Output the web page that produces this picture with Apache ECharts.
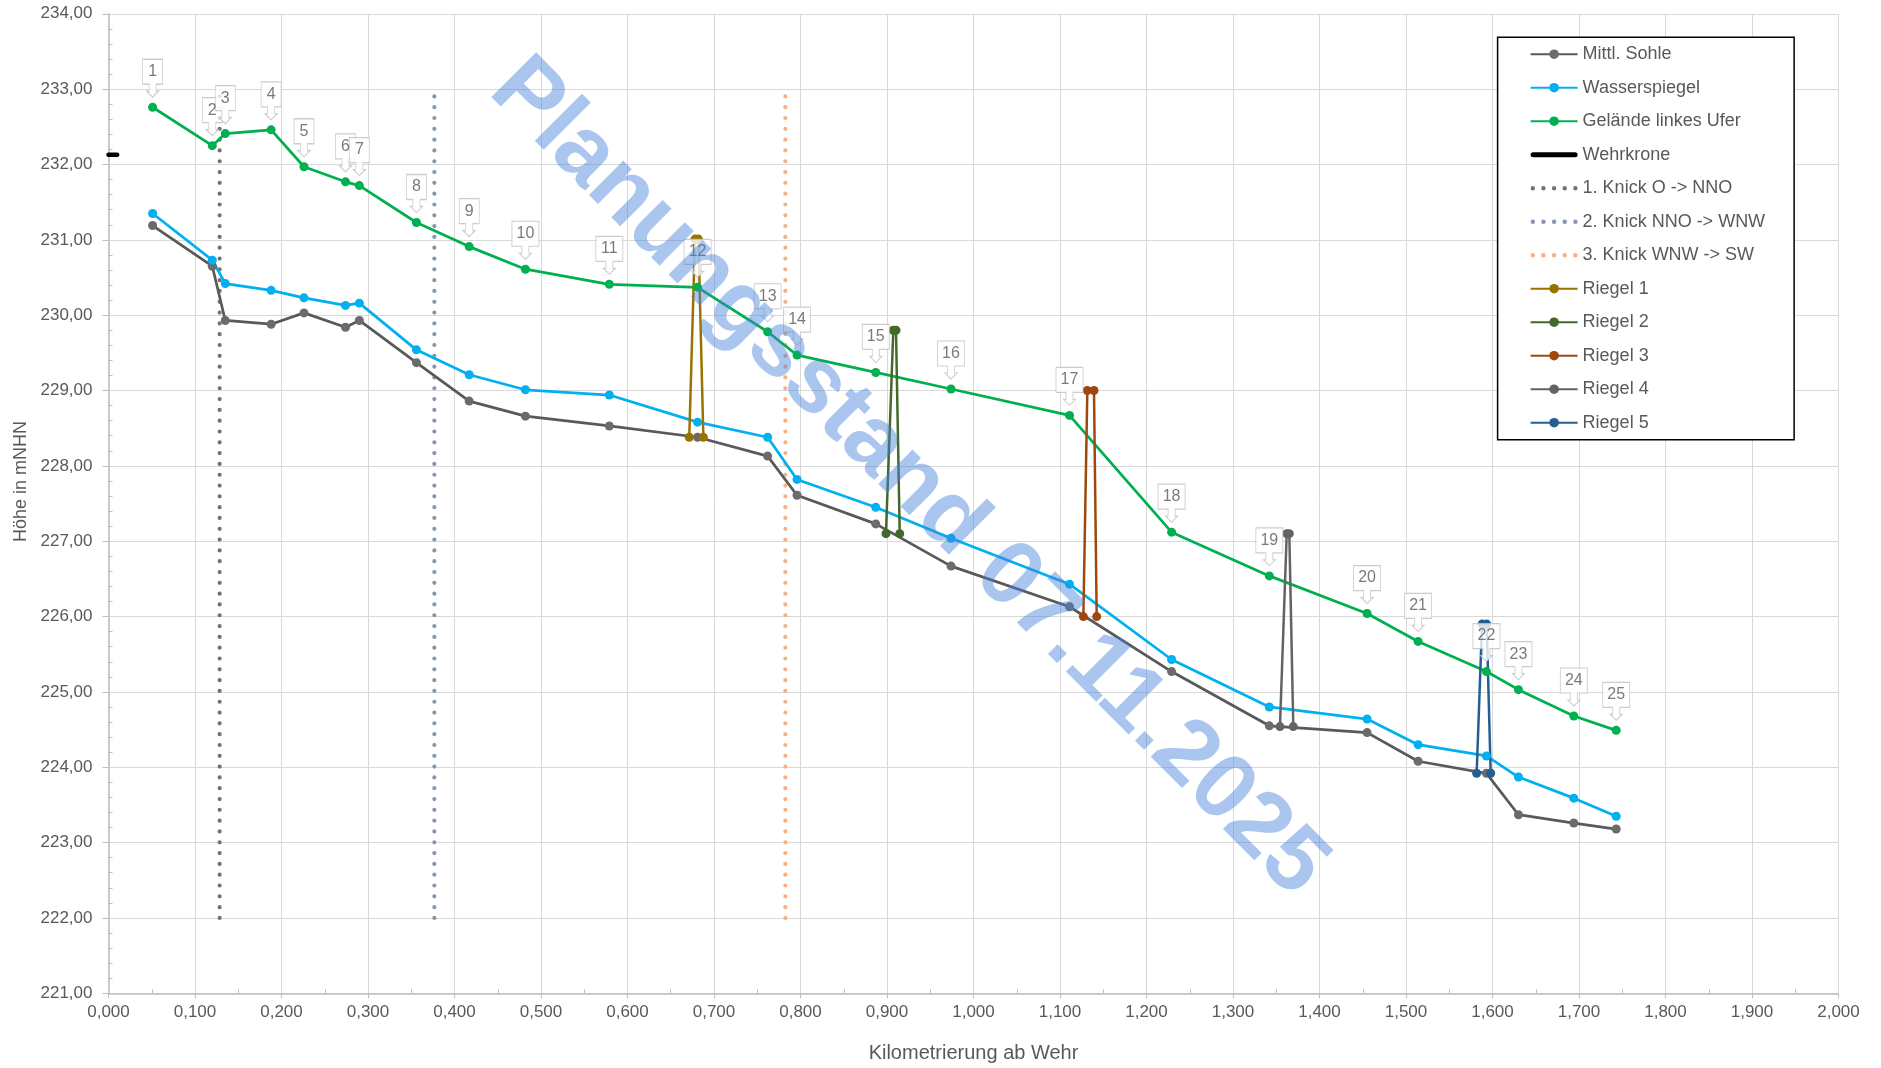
<!DOCTYPE html>
<html><head><meta charset="utf-8">
<script src="https://cdn.jsdelivr.net/npm/echarts@6/dist/echarts.min.js"></script>
<style>html,body{margin:0;padding:0;background:#fff}#c{width:1881px;height:1068px}</style>
</head><body><div id="c"></div>
<script>
// ---- data ----
const stationLabels = ['1','2','3','4','5','6','7','8','9','10','11','12','13','14','15','16','17','18','19','20','21','22','23','24','25'];
const km = [0.051, 0.120, 0.135, 0.188, 0.226, 0.274, 0.290, 0.356, 0.417, 0.482, 0.579, 0.681, 0.762, 0.796, 0.887, 0.974, 1.111, 1.229, 1.342, 1.455, 1.514, 1.593, 1.630, 1.694, 1.743];
const sohle = [231.19, 230.65, 229.93, 229.88, 230.03, 229.84, 229.93, 229.37, 228.86, 228.66, 228.53, 228.38, 228.13, 227.61, 227.23, 226.67, 226.13, 225.27, 224.55, 224.46, 224.08, 223.92, 223.37, 223.26, 223.18];
const wasser = [231.35, 230.73, 230.42, 230.33, 230.23, 230.13, 230.16, 229.54, 229.21, 229.01, 228.94, 228.58, 228.38, 227.82, 227.45, 227.04, 226.43, 225.43, 224.80, 224.64, 224.30, 224.15, 223.87, 223.59, 223.35];
const gelaende = [232.76, 232.25, 232.41, 232.46, 231.97, 231.77, 231.72, 231.23, 230.91, 230.61, 230.41, 230.37, 229.78, 229.47, 229.24, 229.02, 228.67, 227.12, 226.54, 226.04, 225.67, 225.27, 225.03, 224.68, 224.49];

const wehrkroneX = [0.000, 0.010];
const wehrkroneY = [232.13, 232.13];

const knickY = [222.0, 233.0];
const knick1X = [0.1285, 0.1285];
const knick2X = [0.3767, 0.3767];
const knick3X = [0.7825, 0.7825];

const riegel1X = [0.6714, 0.6780, 0.6820, 0.6877];
const riegel1Y = [228.38, 231.01, 231.01, 228.38];
const riegel2X = [0.8988, 0.9073, 0.9104, 0.9147];
const riegel2Y = [227.10, 229.80, 229.80, 227.10];
const riegel3X = [1.1270, 1.1316, 1.1393, 1.1424];
const riegel3Y = [226.00, 229.00, 229.00, 226.00];
const riegel4X = [1.3543, 1.3621, 1.3651, 1.3697];
const riegel4Y = [224.54, 227.10, 227.10, 224.54];
const riegel5X = [1.5817, 1.5879, 1.5933, 1.5979];
const riegel5Y = [223.92, 225.90, 225.90, 223.92];

const seriesNames = ['Mittl. Sohle','Wasserspiegel','Gelände linkes Ufer','Wehrkrone','1. Knick O -> NNO','2. Knick NNO -> WNW','3. Knick WNW -> SW','Riegel 1','Riegel 2','Riegel 3','Riegel 4','Riegel 5'];
const watermarkText = 'Planungsstand 07.11.2025';

// ---- helpers ----
const pairs = (xs, ys) => xs.map((x, i) => [x, ys[i]]);
const FONT = '"Liberation Sans", Arial, sans-serif';
const TXT = '#595959';

function markerLine(name, xs, ys, lineColor, markColor, width) {
  return {
    name, type: 'line', data: pairs(xs, ys),
    symbol: 'circle', symbolSize: 9, showSymbol: true,
    lineStyle: { color: lineColor, width: width },
    itemStyle: { color: markColor, borderWidth: 0 },
    emphasis: { disabled: true }, silent: true, z: 3
  };
}
function dotLine(name, xs, ys, color) {
  return {
    name, type: 'line', data: pairs(xs, ys), symbol: 'none',
    lineStyle: { color, width: 4.2, type: [0.01, 10.8], cap: 'round' },
    itemStyle: { color },
    emphasis: { disabled: true }, silent: true, z: 2
  };
}
function callout(w) {
  const c = w / 2;
  return 'path://M0,0H' + w + 'V25H' + (c + 3.5) + 'V32H' + (c + 6) + 'L' + c + ',38L' + (c - 6) + ',32H' + (c - 3.5) + 'V25H0Z';
}
const calloutData = km.map((x, i) => {
  const w = stationLabels[i].length > 1 ? 27 : 20;
  return { value: [x, gelaende[i]], name: stationLabels[i], symbol: callout(w), symbolSize: [w, 38] };
});

const dotsIcon = 'path://M0,6A2.2,2.2 0 1 0 4.4,6A2.2,2.2 0 1 0 0,6Z M10.6,6A2.2,2.2 0 1 0 15,6A2.2,2.2 0 1 0 10.6,6Z M21.2,6A2.2,2.2 0 1 0 25.6,6A2.2,2.2 0 1 0 21.2,6Z M31.8,6A2.2,2.2 0 1 0 36.2,6A2.2,2.2 0 1 0 31.8,6Z M42.4,6A2.2,2.2 0 1 0 46.8,6A2.2,2.2 0 1 0 42.4,6Z';
const barIcon = 'path://M2.5,0H44.5A2.5,2.5 0 0 1 44.5,5H2.5A2.5,2.5 0 0 1 2.5,0Z';

const legendData = seriesNames.map(n => {
  if (n.indexOf('Knick') >= 0) return { name: n, icon: dotsIcon };
  if (n === 'Wehrkrone') return { name: n, icon: barIcon };
  return { name: n };
});

const chart = echarts.init(document.getElementById('c'), null, { renderer: 'canvas' });
chart.setOption({
  animation: false,
  backgroundColor: '#fff',
  textStyle: { fontFamily: FONT },
  grid: { left: 108.5, top: 13.8, width: 1730, height: 979.5, containLabel: false, outerBoundsMode: 'none' },
  legend: {
    orient: 'vertical', left: 1497.6, top: 37.2,
    data: legendData,
    itemWidth: 47, itemHeight: 12, itemGap: 15.5,
    padding: [8, 29, 8, 32],
    borderColor: '#000', borderWidth: 1.5, backgroundColor: '#fff',
    textStyle: { color: TXT, fontSize: 18, fontFamily: FONT, lineHeight: 18 },
    selectedMode: false
  },
  xAxis: {
    type: 'value', min: 0, max: 2, interval: 0.1,
    name: 'Kilometrierung ab Wehr', nameLocation: 'middle', nameGap: 50,
    nameTextStyle: { color: TXT, fontSize: 20, fontFamily: FONT },
    axisLine: { show: true, lineStyle: { color: '#bfbfbf', width: 1.5 } },
    axisTick: { show: true, length: 5, lineStyle: { color: '#bfbfbf' } },
    minorTick: { show: true, splitNumber: 2, length: -4, lineStyle: { color: '#bfbfbf' } },
    axisLabel: { color: TXT, fontSize: 17, margin: 11, showMinLabel: true, showMaxLabel: true,
      formatter: v => v.toFixed(3).replace('.', ',') },
    splitLine: { show: true, lineStyle: { color: '#d9d9d9', width: 1 } }
  },
  yAxis: {
    type: 'value', min: 221, max: 234, interval: 1,
    name: 'Höhe in mNHN', nameLocation: 'middle', nameGap: 78, nameRotate: 90,
    nameTextStyle: { color: TXT, fontSize: 18, fontFamily: FONT, padding: [0, 0, 0, 44] },
    axisLine: { show: true, lineStyle: { color: '#bfbfbf', width: 1.5 } },
    axisTick: { show: true, length: 6, lineStyle: { color: '#bfbfbf' } },
    minorTick: { show: true, splitNumber: 5, length: -4, lineStyle: { color: '#bfbfbf' } },
    axisLabel: { color: TXT, fontSize: 17, margin: 16, showMinLabel: true, showMaxLabel: true,
      formatter: v => v.toFixed(2).replace('.', ',') },
    splitLine: { show: true, lineStyle: { color: '#d9d9d9', width: 1 } }
  },
  series: [
    dotLine(seriesNames[4], knick1X, knickY, '#767171'),
    dotLine(seriesNames[5], knick2X, knickY, '#8497B0'),
    dotLine(seriesNames[6], knick3X, knickY, '#F4B183'),
    markerLine(seriesNames[0], km, sohle, '#595959', '#6b6b6b', 2.75),
    markerLine(seriesNames[1], km, wasser, '#00B0F0', '#00B0F0', 2.75),
    markerLine(seriesNames[2], km, gelaende, '#00B050', '#00B050', 2.75),
    {
      name: seriesNames[3], type: 'line', data: pairs(wehrkroneX, wehrkroneY), symbol: 'none',
      lineStyle: { color: '#000', width: 4.5, cap: 'round' }, itemStyle: { color: '#000' },
      emphasis: { disabled: true }, silent: true, z: 3
    },
    markerLine(seriesNames[7], riegel1X, riegel1Y, '#997300', '#997300', 2.5),
    markerLine(seriesNames[8], riegel2X, riegel2Y, '#43682B', '#43682B', 2.5),
    markerLine(seriesNames[9], riegel3X, riegel3Y, '#9E480E', '#9E480E', 2.5),
    markerLine(seriesNames[10], riegel4X, riegel4Y, '#636363', '#636363', 2.5),
    markerLine(seriesNames[11], riegel5X, riegel5Y, '#255E91', '#255E91', 2.5),
    {
      name: 'Beschriftung', type: 'scatter', data: calloutData,
      symbolOffset: [0, -29],
      itemStyle: { color: '#ffffff', borderColor: '#bfbfbf', borderWidth: 1 },
      label: { show: true, position: 'inside', offset: [0, -6.5], formatter: p => p.name,
        color: TXT, fontSize: 16, fontFamily: FONT },
      emphasis: { disabled: true }, silent: true, z: 10
    }
  ],
  graphic: [{
    type: 'text', x: 908, y: 478, rotation: -Math.PI / 4, z: 100, silent: true,
    style: { text: watermarkText, fill: 'rgba(66,128,217,0.45)',
      font: 'bold 92px "Liberation Sans", Arial, sans-serif',
      textAlign: 'center', textVerticalAlign: 'middle' }
  }]
});
</script></body></html>
